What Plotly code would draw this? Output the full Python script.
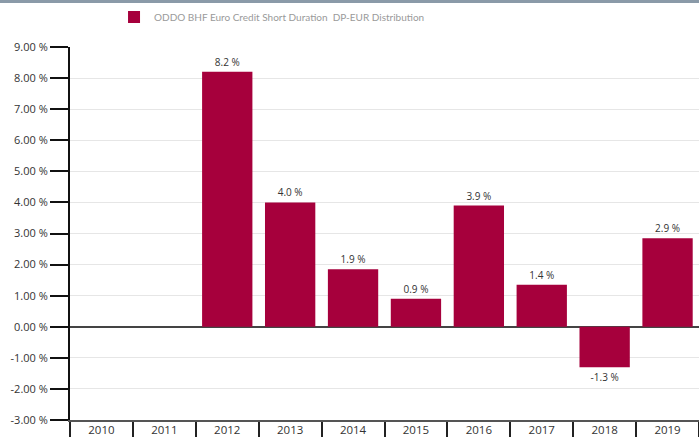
import plotly.graph_objects as go

years = ["2010", "2011", "2012", "2013", "2014", "2015", "2016", "2017", "2018", "2019"]
returns = [None, None, 8.2, 4.0, 1.85, 0.9, 3.9, 1.35, -1.3, 2.85]
series_name = "ODDO BHF Euro Credit Short Duration  DP-EUR Distribution"
y_ticks = [9, 8, 7, 6, 5, 4, 3, 2, 1, 0, -1, -2, -3]
y_tick_labels = ["%.2f %%" % v for v in y_ticks]

bar_color = "#a6003c"
font_family = "Open Sans, Noto Sans, sans-serif"
plot_h = 437 - 47 - 17

fig = go.Figure()
fig.add_trace(go.Bar(
    x=years, y=returns, name=series_name,
    marker=dict(color=bar_color, line=dict(width=0)),
    texttemplate="%{y:.1f} %", textposition="outside",
    textfont=dict(size=10, color="#333333", family=font_family),
    cliponaxis=False, showlegend=True,
))

fig.update_layout(
    width=699, height=437,
    margin=dict(l=70, r=0, t=47, b=17, autoexpand=False),
    paper_bgcolor="white", plot_bgcolor="white",
    bargap=0.2,
    font=dict(family=font_family, size=11, color="#333333"),
    showlegend=True,
    legend=dict(orientation="h", x=0.07, y=1 + 30 / plot_h, xanchor="left", yanchor="middle",
                font=dict(size=10, color="#9a9a9a",
                          family="Lato, sans-serif"),
                bgcolor="rgba(0,0,0,0)"),
    shapes=[dict(type="rect", xref="paper", yref="paper", x0=-0.2, x1=1.1,
                 y0=1 + 44 / plot_h, y1=1 + 48 / plot_h,
                 fillcolor="#8a9aa8", line=dict(width=0), layer="above")],
)

fig.update_xaxes(
    type="category", range=[-0.5, 9.5],
    showline=True, linecolor="#555555", linewidth=2,
    ticks="outside", tickson="boundaries", ticklen=17, tickwidth=2, tickcolor="#222222",
    ticklabelstandoff=-2,
    tickfont=dict(size=11.5, color="#333333"),
    showgrid=False, zeroline=False,
)
fig.update_yaxes(
    range=[-3, 9], tickvals=y_ticks, ticktext=y_tick_labels,
    showline=True, linecolor="#111111", linewidth=2,
    ticks="outside", ticklen=18, tickwidth=2, tickcolor="#111111",
    tickfont=dict(size=11, color="#333333"),
    showgrid=True, gridcolor="#e6e6e6", gridwidth=1,
    zeroline=True, zerolinecolor="#444444", zerolinewidth=2,
)

fig.write_html("out.html")
